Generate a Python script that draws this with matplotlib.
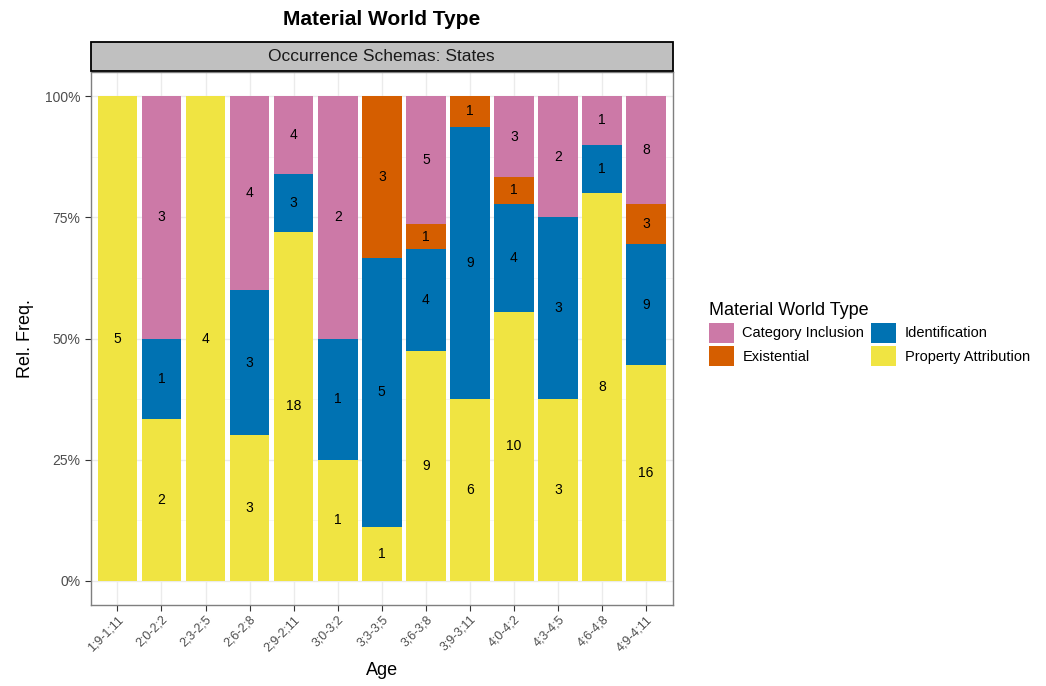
import matplotlib
matplotlib.use("Agg")
import matplotlib.pyplot as plt
import numpy as np
from matplotlib.patches import Patch, Rectangle
from matplotlib.ticker import FixedLocator

plt.rcParams['font.family'] = ['Liberation Sans', 'DejaVu Sans']

ages = ["1;9-1;11", "2;0-2;2", "2;3-2;5", "2;6-2;8", "2;9-2;11", "3;0-3;2",
        "3;3-3;5", "3;6-3;8", "3;9-3;11", "4;0-4;2", "4;3-4;5", "4;6-4;8",
        "4;9-4;11"]

# counts per type, stacked from the bottom upward
property_attribution = [5, 2, 4, 3, 18, 1, 1, 9, 6, 10, 3, 8, 16]
identification       = [0, 1, 0, 3, 3, 1, 5, 4, 9, 4, 3, 1, 9]
existential          = [0, 0, 0, 0, 0, 0, 3, 1, 1, 1, 0, 0, 3]
category_inclusion   = [0, 3, 0, 4, 4, 2, 0, 5, 0, 3, 2, 1, 8]

series = [
    ("Property Attribution", property_attribution, "#F0E442"),
    ("Identification", identification, "#0072B2"),
    ("Existential", existential, "#D55E00"),
    ("Category Inclusion", category_inclusion, "#CC79A7"),
]

fig = plt.figure(figsize=(10.46, 6.86), dpi=100)
ax = fig.add_axes([0.087, 0.118, 0.556, 0.777])

x = np.arange(len(ages))
totals = np.sum([s[1] for s in series], axis=0).astype(float)
bottom = np.zeros(len(ages))
for name, vals, color in series:
    vals = np.asarray(vals, dtype=float)
    frac = vals / totals
    ax.bar(x, frac, bottom=bottom, width=0.9, color=color, edgecolor="none",
           zorder=2)
    for i, (v, f) in enumerate(zip(vals, frac)):
        if v > 0:
            ax.text(x[i], bottom[i] + f / 2, f"{int(v)}", ha="center",
                    va="center", fontsize=10, color="black", zorder=3)
    bottom += frac

ax.set_xlim(-0.6, len(ages) - 0.4)
ax.set_ylim(-0.05, 1.05)
ax.set_yticks([0, 0.25, 0.5, 0.75, 1.0])
ax.set_yticklabels(["0%", "25%", "50%", "75%", "100%"])
ax.yaxis.set_minor_locator(FixedLocator([0.125, 0.375, 0.625, 0.875]))
ax.set_xticks(x)
ax.set_xticklabels(ages, rotation=45, ha="right", rotation_mode="anchor",
                   fontsize=9)

ax.grid(True, which="major", color="#EBEBEB", linewidth=1.0, zorder=0)
ax.grid(True, which="minor", axis="y", color="#F4F4F4", linewidth=0.6, zorder=0)
ax.set_axisbelow(True)
for sp in ax.spines.values():
    sp.set_color("#7F7F7F")
    sp.set_linewidth(1.0)
ax.tick_params(axis="both", which="major", colors="#333333", labelcolor="#4D4D4D",
               length=4)
ax.tick_params(axis="y", which="major", labelsize=10)
ax.tick_params(axis="x", which="major", pad=2)
ax.tick_params(axis="y", which="minor", length=0)

ax.set_xlabel("Age", fontsize=13, labelpad=6)
ax.set_ylabel("Rel. Freq.", fontsize=13, labelpad=8)

# facet strip
strip = Rectangle((0.087, 0.897), 0.556, 0.042, transform=fig.transFigure,
                  facecolor="#C0C0C0", edgecolor="black", linewidth=1.3)
fig.patches.append(strip)
fig.text(0.087 + 0.556 / 2, 0.918, "Occurrence Schemas: States", ha="center",
         va="center", fontsize=12.5, color="#1A1A1A")

fig.text(0.087 + 0.556 / 2, 0.972, "Material World Type", ha="center",
         va="center", fontsize=15, fontweight="bold")

legend_order = ["Category Inclusion", "Existential", "Identification",
                "Property Attribution"]
colors = {name: c for name, _, c in series}
handles = [Patch(facecolor=colors[n], edgecolor="none", label=n)
           for n in legend_order]
leg = fig.legend(handles=handles, title="Material World Type", ncol=2,
                 loc="upper left", bbox_to_anchor=(0.672, 0.568),
                 frameon=False, fontsize=10.5, title_fontsize=13,
                 handlelength=1.7, handleheight=1.7, handletextpad=0.6,
                 columnspacing=0.5, labelspacing=0.25, borderaxespad=0)
leg._legend_box.align = "left"

fig.savefig("out.png", dpi=100)
